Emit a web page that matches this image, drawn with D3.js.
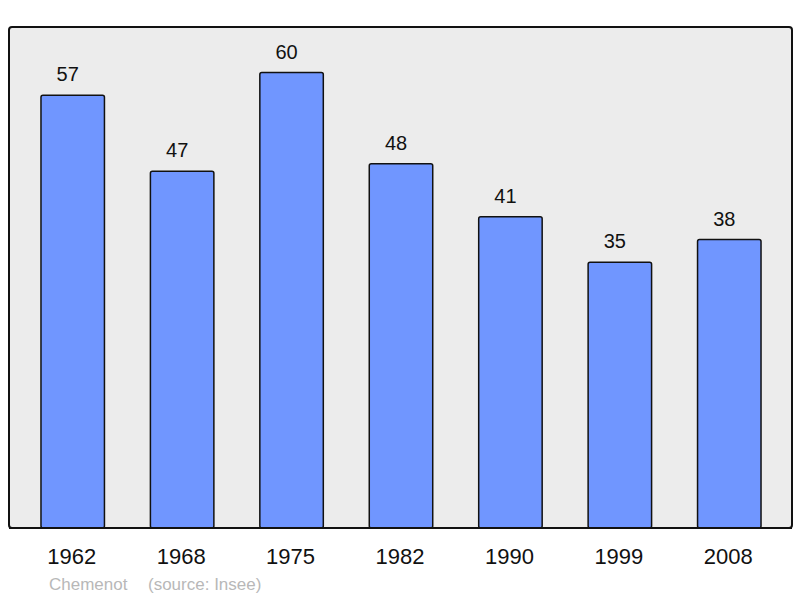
<!DOCTYPE html>
<html>
<head>
<meta charset="utf-8">
<script src="https://cdn.jsdelivr.net/npm/d3@7"></script>
<style>
  body { margin: 0; background: #fff; }
  text { font-family: "Liberation Sans", Arial, sans-serif; }
</style>
</head>
<body>
<div id="chart"></div>
<script>
// Data
const years = ["1962", "1968", "1975", "1982", "1990", "1999", "2008"];
const population = [57, 47, 60, 48, 41, 35, 38];
const commune = "Chemenot";
const source = "(source: Insee)";

const width = 800, height = 598;
const panel = { left: 9, top: 27, right: 792, bottom: 528 };

const svg = d3.select("#chart")
  .append("svg")
  .attr("width", width)
  .attr("height", height);

// Panel background
svg.append("rect")
  .attr("x", panel.left)
  .attr("y", panel.top)
  .attr("width", panel.right - panel.left)
  .attr("height", panel.bottom - panel.top)
  .attr("rx", 3)
  .attr("fill", "#ececec")
  .attr("stroke", "#111")
  .attr("stroke-width", 2);

const x = d3.scaleBand()
  .domain(years)
  .range([18, 784])
  .paddingInner(0.42)
  .paddingOuter(0.21);

const y = d3.scaleLinear()
  .domain([0, 66])
  .range([panel.bottom, panel.top]);

const data = years.map((yr, i) => ({ year: yr, value: population[i] }));

// Bars
svg.selectAll(".bar")
  .data(data)
  .enter()
  .append("rect")
  .attr("class", "bar")
  .attr("x", d => x(d.year))
  .attr("y", d => y(d.value))
  .attr("width", x.bandwidth())
  .attr("height", d => y(0) - y(d.value))
  .attr("rx", 2)
  .attr("fill", "#7096ff")
  .attr("stroke", "#111")
  .attr("stroke-width", 1.5);

// Value labels (sit a little left of the bar centre, like the original)
svg.selectAll(".val")
  .data(data)
  .enter()
  .append("text")
  .attr("class", "val")
  .attr("x", d => x(d.year) + x.bandwidth() / 2 - 5)
  .attr("y", d => y(d.value) - 14)
  .attr("text-anchor", "middle")
  .attr("font-size", 20)
  .attr("fill", "#111")
  .text(d => d.value);

// Redraw the baseline over the bar bottoms
svg.append("line")
  .attr("x1", panel.left)
  .attr("x2", panel.right)
  .attr("y1", panel.bottom)
  .attr("y2", panel.bottom)
  .attr("stroke", "#111")
  .attr("stroke-width", 2);

// Year axis
const xAxis = d3.axisBottom(x).tickSize(0).tickPadding(0);
svg.append("g")
  .attr("transform", `translate(-1, ${panel.bottom + 36})`)
  .call(xAxis)
  .call(g => g.select(".domain").remove())
  .selectAll("text")
  .attr("dy", 0)
  .attr("font-size", 22)
  .attr("font-family", "Liberation Sans, Arial, sans-serif")
  .attr("fill", "#111");

// Footer
svg.append("text")
  .attr("x", 49)
  .attr("y", 590)
  .attr("font-size", 17)
  .attr("fill", "#b8b8b8")
  .text(commune);

svg.append("text")
  .attr("x", 148)
  .attr("y", 590)
  .attr("font-size", 17)
  .attr("fill", "#b8b8b8")
  .text(source);
</script>
</body>
</html>
